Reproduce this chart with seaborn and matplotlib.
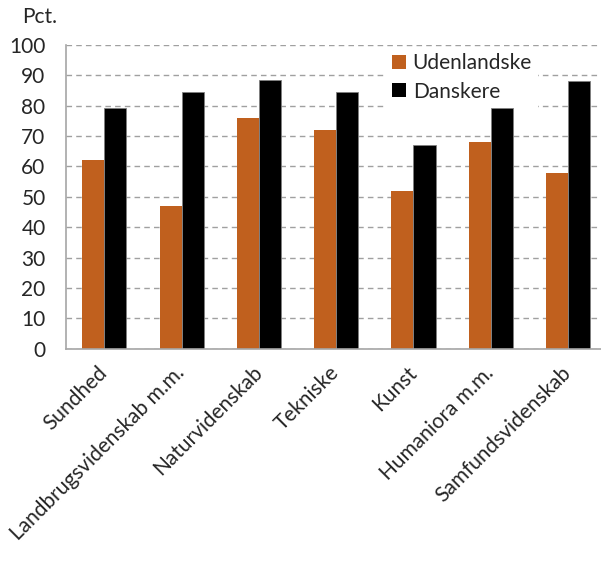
import matplotlib
matplotlib.use("Agg")
import matplotlib.pyplot as plt
import seaborn as sns
import pandas as pd
import numpy as np

categories = ["Sundhed", "Landbrugsvidenskab m.m.", "Naturvidenskab", "Tekniske",
              "Kunst", "Humaniora m.m.", "Samfundsvidenskab"]
udenlandske = [62, 47, 76, 72, 52, 68, 58]
danskere = [79.2, 84.6, 88.4, 84.6, 67, 79.2, 88.1]
series_names = ["Udenlandske", "Danskere"]
y_ticks = [0, 10, 20, 30, 40, 50, 60, 70, 80, 90, 100]

ORANGE = "#C0601E"
BLACK = "#000000"
GRID = "#A0A0A0"
AXIS = "#A6A6A6"
FS = 15

sns.set_style("white")
plt.rcParams["font.family"] = ["Lato", "DejaVu Sans"]

df = pd.DataFrame({
    "Område": categories * 2,
    "Pct": udenlandske + danskere,
    "Gruppe": [series_names[0]] * len(categories) + [series_names[1]] * len(categories),
})

fig = plt.figure(figsize=(6.01, 5.73), dpi=100)
ax = fig.add_axes([65.7 / 601, 1 - 348.7 / 573, 541 / 601, 303.7 / 573])

sns.barplot(data=df, x="Område", y="Pct", hue="Gruppe", order=categories,
            hue_order=series_names, palette=[ORANGE, BLACK], width=0.57,
            saturation=1, errorbar=None, ax=ax, linewidth=0)

for p in ax.containers[1]:
    p.set_edgecolor("#808080")
    p.set_linewidth(0.6)

ax.set_xlim(-0.5, len(categories) - 0.5)
ax.set_ylim(0, 100)
ax.set_yticks(y_ticks)
ax.set_yticklabels([str(v) for v in y_ticks], fontsize=FS)
ax.set_axisbelow(True)
ax.yaxis.grid(True, linestyle=(0, (4, 3)), color=GRID, linewidth=1)
ax.xaxis.grid(False)

ax.set_xlabel("")
ax.set_ylabel("")
ax.set_xticks(range(len(categories)))
ax.set_xticklabels(categories, rotation=45, ha="right", va="center",
                   rotation_mode="anchor", fontsize=FS)
ax.tick_params(axis="x", which="major", length=0, pad=15)
ax.set_xticks(np.arange(-0.5, len(categories), 1), minor=True)
ax.tick_params(axis="x", which="minor", length=5.5, color=AXIS, width=1, direction="out")
ax.tick_params(axis="y", length=5.5, color=AXIS, width=1, pad=9, direction="out")

for s in ["top", "right"]:
    ax.spines[s].set_visible(False)
for s in ["left", "bottom"]:
    ax.spines[s].set_color(AXIS)
    ax.spines[s].set_linewidth(1.2)

fig.text(22 / 601, 1 - 23 / 573, "Pct.", fontsize=FS, ha="left", va="baseline")

leg = ax.legend(loc="upper left", bbox_to_anchor=(386 / 601, 1 - 47 / 573),
                bbox_transform=fig.transFigure, frameon=True, fontsize=FS,
                handlelength=0.68, handleheight=0.68, handletextpad=0.3,
                labelspacing=0.4, borderpad=0.3, borderaxespad=0,
                fancybox=False)
leg.get_frame().set_facecolor("white")
leg.get_frame().set_edgecolor("none")
leg.get_frame().set_alpha(1)

fig.savefig("out.png", dpi=100)
